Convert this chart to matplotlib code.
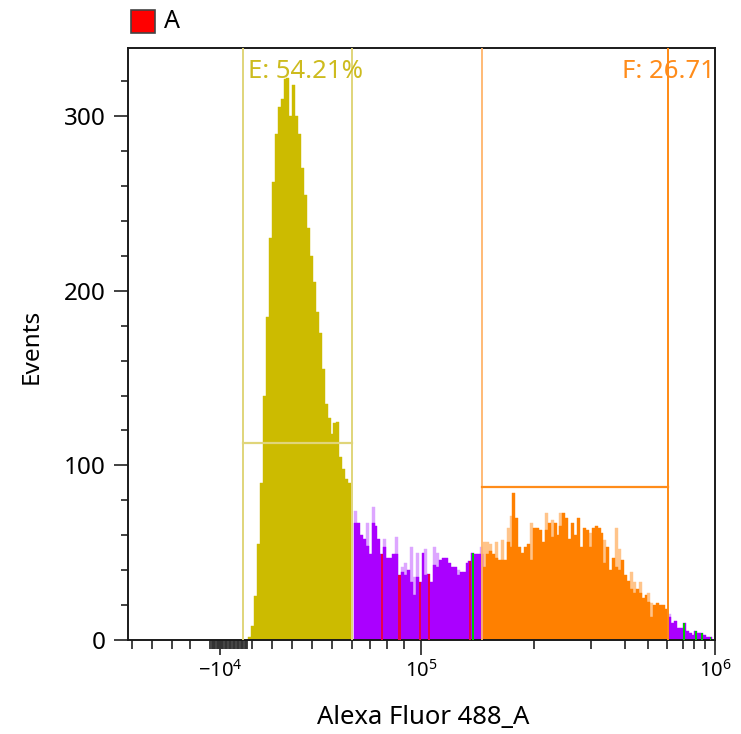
import matplotlib
matplotlib.use('Agg')
import matplotlib.pyplot as plt
from matplotlib.patches import Rectangle
import numpy as np

plt.rcParams['font.family'] = ['Noto Sans', 'DejaVu Sans']
plt.rcParams['mathtext.fontset'] = 'custom'
plt.rcParams['mathtext.rm'] = 'Noto Sans'

# ---------------- data (display channels, 200 channels across the axis) ----------------
first_channel = 41
counts = [
    2, 8, 25, 55, 90, 140, 185, 230, 262, 290,
    305, 310, 321, 322, 300, 318, 300, 290, 270, 255,
    236, 220, 205, 188, 176, 155, 135, 127, 118, 124,
    125, 105, 98, 92, 90, 0, 67, 67, 60, 58,
    54, 49, 67, 65, 58, 49, 53, 47, 47, 49,
    49, 37, 39, 37, 40, 33, 26, 36, 33, 50,
    37, 38, 33, 43, 42, 46, 47, 47, 44, 42,
    42, 37, 39, 39, 44, 45, 50, 49, 49, 49,
    42, 49, 51, 49, 47, 46, 46, 46, 56, 53,
    84, 70, 53, 50, 53, 55, 46, 64, 64, 63,
    56, 63, 67, 59, 67, 60, 65, 73, 70, 58,
    67, 60, 70, 53, 64, 63, 53, 64, 65, 64,
    61, 44, 53, 40, 47, 42, 40, 46, 37, 34,
    29, 27, 29, 27, 24, 26, 22, 13, 20, 21,
    20, 20, 18, 13, 10, 11, 7, 7, 10, 5,
    4, 3, 5, 4, 4, 3, 2, 2,
]
# lighter sub-bin peaks seen above some bars
peak_tips = [
    0, 0, 0, 0, 0, 0, 0, 0, 0, 0,
    0, 0, 0, 0, 0, 0, 0, 0, 0, 0,
    0, 0, 0, 0, 0, 0, 0, 0, 0, 0,
    0, 0, 0, 0, 0, 0, 74, 0, 0, 0,
    67, 0, 76, 0, 0, 0, 58, 0, 0, 0,
    59, 0, 42, 44, 0, 53, 36, 50, 0, 0,
    52, 0, 0, 53, 50, 0, 0, 0, 0, 0,
    0, 40, 0, 0, 0, 0, 0, 0, 0, 53,
    56, 56, 55, 0, 56, 0, 57, 0, 64, 71,
    0, 0, 0, 0, 0, 0, 67, 0, 0, 0,
    0, 73, 0, 69, 0, 0, 73, 0, 0, 0,
    0, 0, 0, 0, 0, 0, 61, 0, 0, 0,
    0, 57, 0, 0, 0, 64, 52, 0, 0, 0,
    39, 33, 0, 33, 0, 0, 27, 21, 0, 0,
    0, 0, 0, 15, 0, 0, 0, 0, 0, 0,
    0, 0, 0, 0, 0, 0, 0, 0,
]
red_channels = [86, 92, 99, 102, 116]
green_channels = [117, 189, 193, 195, 198]

# gates (channel range, height of label bar, label)
gate_E = (39.2, 76.3, 112.8, 'E: 54.21%')
gate_F = (120.6, 184.0, 87.6, 'F: 26.71%')

x_major = [31.3, 99.8, 200.0]
x_major_labels = [r'$\mathregular{-10^{4}}$', r'$\mathregular{10^{5}}$', r'$\mathregular{10^{6}}$']
x_minor_sparse = [1.26, 8.07, 14.89, 21.12, 42.15, 48.96, 55.78, 62.59, 69.40, 76.22,
                  82.45, 88.25, 94.04, 138.33, 157.75, 169.34, 177.17, 183.65, 189.10,
                  192.84, 196.59]
x_minor_dense = list(np.arange(28.0, 40.6, 0.45))

# ---------------- colours ----------------
C_YEL = '#CCBB00'
C_PUR = '#AA00FF'
C_ORA = '#FF8000'
C_PUR_L = '#DDA6FF'
C_ORA_L = '#FFC48A'
C_RED = '#E8004C'
C_GRN = '#00C800'

fig = plt.figure(figsize=(7.41, 7.34), dpi=100)
ax = fig.add_axes([128/741, 1-640/734, 587/741, 592/734])

ch = np.arange(first_channel, first_channel + len(counts))
counts_a = np.array(counts, float)
tips_a = np.array(peak_tips, float)

def base_color(c):
    mid = c + 0.5
    if gate_E[0] <= mid < gate_E[1]:
        return C_YEL
    if gate_F[0] <= mid < gate_F[1]:
        return C_ORA
    return C_PUR

def light_color(c):
    return C_ORA_L if base_color(c) == C_ORA else C_PUR_L

cols = [base_color(c) for c in ch]
lcols = [light_color(c) for c in ch]

ax.bar(ch, tips_a, width=1.0, align='edge', color=lcols, edgecolor=lcols, linewidth=0.3, zorder=1)
ax.bar(ch, counts_a, width=1.0, align='edge', color=cols, edgecolor=cols, linewidth=0.3, zorder=2)

for c in red_channels:
    ax.bar(c + 0.15, counts_a[c - first_channel], width=0.7, align='edge',
           color=C_RED, linewidth=0, zorder=3)
for c in green_channels:
    ax.bar(c + 0.15, counts_a[c - first_channel], width=0.6, align='edge',
           color=C_GRN, linewidth=0, zorder=3)

YMAX = 339
ax.set_xlim(0, 200)
ax.set_ylim(0, YMAX)

# gates
e0, e1, eh, elab = gate_E
ax.plot([e0, e0], [0, YMAX], color='#E0D57A', lw=1.4, zorder=4)
ax.plot([e1, e1], [0, YMAX], color='#E0D57A', lw=1.4, zorder=4)
ax.plot([e0, e1], [eh, eh], color='#E0D57A', lw=1.6, zorder=4)
ax.text(e0 + 1.7, 322, elab, color='#CDBB1E', fontsize=18.5, ha='left', va='baseline', zorder=5)

f0, f1, fh, flab = gate_F
ax.plot([f0, f0], [0, YMAX], color='#FFB46A', lw=1.3, zorder=4)
ax.plot([f1, f1], [0, YMAX], color='#FF8A14', lw=1.4, zorder=4)
ax.plot([f0, f1], [fh, fh], color='#FF8C1A', lw=1.6, zorder=4)
ax.text(168.3, 322, flab, color='#FF8C1A', fontsize=18.5, ha='left', va='baseline',
        zorder=5, clip_on=True)

# axes styling
for s in ax.spines.values():
    s.set_linewidth(1.4)
    s.set_color('#1a1a1a')

ax.set_yticks([0, 100, 200, 300])
ax.set_yticks(np.arange(0, 340, 20), minor=True)
ax.tick_params(axis='y', which='major', length=10, width=1.3, color='#333333',
               labelsize=17.5, pad=6)
ax.tick_params(axis='y', which='minor', length=5, width=1.3, color='#333333')

ax.set_xticks(x_major)
ax.set_xticklabels(x_major_labels)
ax.set_xticks(x_minor_sparse + x_minor_dense, minor=True)
ax.tick_params(axis='x', which='major', length=11, width=1.3, color='#333333',
               labelsize=14.5, pad=3)
ax.tick_params(axis='x', which='minor', length=6.5, width=1.3, color='#333333')

fig.text(423/741, 1-718/734, 'Alexa Fluor 488_A', fontsize=18.5, ha='center', va='center')
fig.text(32/741, 1-346/734, 'Events', fontsize=17.5, ha='center', va='center', rotation=90)

# legend
fig.patches.append(Rectangle((131/741, 1-33/734), 24/741, 23/734, transform=fig.transFigure,
                             facecolor='#FF0000', edgecolor='#444444', linewidth=1.2))
fig.text(164/741, 1-22/734, 'A', fontsize=18, ha='left', va='center')

fig.savefig('out.png', dpi=100)
